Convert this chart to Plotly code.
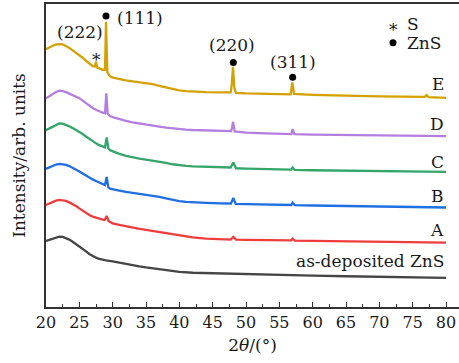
import plotly.graph_objects as go

# ---- data (2theta in degrees, intensity in arbitrary units) ----
x_asdep = [20, 20.5, 21, 21.5, 22, 22.5, 23, 23.5, 24, 24.5, 25, 25.5, 26, 26.5, 27, 27.5, 28, 28.5, 29, 30,
           31, 32, 33, 34, 35, 36, 37, 38, 39, 40, 42, 45, 50, 55, 60, 65, 70, 75, 80]
y_asdep = [66, 67, 68.5, 69.5, 70.2, 70, 69, 67.3, 65.2, 63, 60.5, 58, 55.5, 53, 51, 49.3, 48, 47, 46.5, 45.6,
           44.2, 43, 41.8, 40.6, 39.5, 38.5, 37.5, 36.5, 35.6, 35, 34.2, 33.6, 33, 32.2, 31.3, 30.7, 30.2, 29.6, 29]

x_A = [20, 20.5, 21, 21.5, 22, 22.5, 23, 23.5, 24, 24.5, 25, 25.5, 26, 26.5, 27, 27.5, 28, 28.5, 28.8, 29.1, 29.4,
       30, 31, 32, 33, 34, 35, 36, 37, 38, 39, 40, 41, 42, 44, 46, 47.7, 48.1, 48.5, 50, 53, 56.8, 57.0, 57.3,
       60, 65, 70, 75, 80]
y_A = [102, 103.5, 105, 106.3, 107, 106.8, 106, 104.5, 103, 100.8, 98.5, 96.2, 94, 92, 90.3, 89, 88, 87.2, 87, 91, 85.8,
       83.5, 82, 80.5, 79.2, 78, 77, 76, 75, 74, 72.5, 71.3, 70.3, 69.5, 68.4, 67.8, 67.4, 70, 67.3, 67, 66.8, 66.6, 68.3, 66.4,
       66, 65.6, 65.2, 64.8, 64.4]

x_B = [20, 20.5, 21, 21.5, 22, 22.5, 23, 23.5, 24, 24.5, 25, 25.5, 26, 26.5, 27, 27.5, 28, 28.5, 28.85, 29.1, 29.35,
       29.6, 30, 31, 32, 33, 34, 35, 36, 37, 38, 39, 40, 41, 42, 44, 46, 47.75, 48.1, 48.45, 50, 53, 56.8, 57.0, 57.3,
       60, 65, 70, 75, 80]
y_B = [138, 139.5, 141, 142.3, 143, 142.8, 142, 140.8, 139.2, 137.3, 135.3, 133.3, 131.2, 129.3, 127.5, 125.8, 124.2, 122.8, 121.8, 130, 119.5,
       118.3, 117.6, 116.3, 115, 114, 113.2, 112.4, 111.4, 110, 108.5, 107, 105.8, 105, 104.5, 104, 103.6, 103.4, 109, 103, 102.8, 102.3, 101.9, 104.4, 101.8,
       101.4, 100.8, 100.3, 99.8, 99.4]

x_C = [20, 20.5, 21, 21.5, 22, 22.5, 23, 23.5, 24, 24.5, 25, 25.5, 26, 26.5, 27, 27.5, 28, 28.5, 28.85, 29.1, 29.35,
       29.6, 30, 31, 32, 33, 34, 35, 36, 37, 38, 39, 40, 41, 42, 44, 46, 47.7, 48.1, 48.5, 50, 53, 56.8, 57.0, 57.3,
       60, 65, 70, 75, 80]
y_C = [176.7, 178.5, 180.5, 182.3, 183.4, 183.2, 182, 180.5, 178.7, 177, 175.2, 172.8, 170.3, 167.8, 165.5, 163.5, 161.7, 160.2, 159.5, 169.4, 158.3,
       156.7, 155.5, 153, 150.9, 149.4, 148.2, 147.2, 146.3, 145.2, 143.9, 142.6, 141.6, 140.9, 140.4, 139.9, 139.6, 139.4, 144.4, 138.6, 138.2, 137.7, 137.2, 139.4, 136.9,
       136.6, 136.1, 135.7, 135.3, 135]

x_D = [20, 20.5, 21, 21.5, 22, 22.5, 23, 23.5, 24, 24.5, 25, 25.5, 26, 26.5, 27, 27.5, 28, 28.5, 28.85, 29.05, 29.25,
       29.6, 30, 31, 32, 33, 34, 35, 36, 37, 38, 39, 40, 41, 42, 44, 46, 47.75, 47.9, 48.05, 48.3, 50, 53, 56.8, 57.0, 57.25,
       60, 65, 70, 75, 80]
y_D = [208.4, 210.5, 212.8, 214.8, 216, 215.7, 214.6, 213.2, 211.7, 210.2, 208.6, 206.2, 203.6, 201, 198.8, 197, 195.4, 194.1, 193.5, 213.4, 193,
       190.8, 189.7, 187.6, 185.9, 184.4, 183.2, 182.2, 181.3, 180.3, 179.3, 178.4, 177.7, 177.2, 176.8, 176.3, 176, 175.7, 178.7, 185, 175.4, 174.3, 173.5, 172.8, 177.7, 172.6,
       172.3, 171.8, 171.4, 171, 170.7]

x_E = [20, 20.5, 21, 21.5, 22, 22.5, 23, 23.5, 24, 24.5, 25, 25.5, 26, 26.5, 27, 27.35, 27.5, 27.65, 28, 28.5, 28.85,
       29.0, 29.2, 29.6, 30, 31, 32, 33, 34, 35, 36, 37, 38, 39, 40, 41, 42, 44, 46, 47.7, 47.85, 48.05, 48.25, 48.5,
       50, 53, 56.7, 56.95, 57.2, 60, 65, 70, 76.8, 77.1, 77.4, 80]
y_E = [257.4, 259.3, 261, 262.2, 262.7, 262.4, 261, 258.8, 256.4, 254.2, 252, 249, 246, 243, 240.5, 240.2, 245, 239.4, 238.2, 237, 237,
       285, 234.7, 230.5, 229.2, 227.6, 226.3, 225.3, 224.5, 223.8, 222.6, 221, 219.3, 217.6, 216.4, 215.6, 215.1, 214.7, 214.5, 214.4, 221.7, 240, 218.7, 214,
       213.5, 213, 212.5, 224.4, 212.8, 212, 211, 210.5, 209.9, 211.7, 209.6, 209]

series_names = ["as-deposited ZnS", "A", "B", "C", "D", "E"]
series_label_y = [46, 77.4, 110.7, 145, 182.7, 222.7]
series_colors = ["#454545", "#ee3d3d", "#1f6fe3", "#35a56a", "#b47ee0", "#d4a102"]

# ZnS peak markers
znS_peak_x = [29.0, 48.1, 57.0]
znS_peak_y = [290.7, 244.2, 229.4]
peak_labels = ["(111)", "(220)", "(311)"]
peak_label_x = [30.35, 47.97, 57.05]
peak_label_y = [288.4, 261.7, 244.4]
peak_label_anchor = ["left", "center", "center"]

FONT = "DejaVu Serif"
TXT = "#1a1a1a"

fig = go.Figure()
xs = [x_asdep, x_A, x_B, x_C, x_D, x_E]
ys = [y_asdep, y_A, y_B, y_C, y_D, y_E]
for name, xx, yy, col in zip(series_names, xs, ys, series_colors):
    fig.add_trace(go.Scatter(x=xx, y=yy, mode="lines", name=name,
                             line=dict(color=col, width=2.3), showlegend=False))

fig.add_trace(go.Scatter(x=znS_peak_x, y=znS_peak_y, mode="markers",
                         marker=dict(color="black", size=7), showlegend=False))
# legend bullet
fig.add_trace(go.Scatter(x=[72.05], y=[264], mode="markers",
                         marker=dict(color="black", size=7), showlegend=False))

ann = []
for t, x, y, a in zip(peak_labels, peak_label_x, peak_label_y, peak_label_anchor):
    ann.append(dict(x=x, y=y, text=t, xanchor=a, yanchor="middle", showarrow=False,
                    font=dict(family=FONT, size=17, color=TXT)))
ann.append(dict(x=25.15, y=275, text="(222)", xanchor="center", yanchor="middle",
                showarrow=False, font=dict(family=FONT, size=17, color=TXT)))
ann.append(dict(x=27.6, y=247, text="*", xanchor="center", yanchor="middle",
                showarrow=False, font=dict(family=FONT, size=17, color=TXT)))
ann.append(dict(x=72.05, y=277, text="*", xanchor="center", yanchor="middle",
                showarrow=False, font=dict(family=FONT, size=17, color=TXT)))
ann.append(dict(x=73.85, y=282.7, text="S", xanchor="left", yanchor="middle",
                showarrow=False, font=dict(family=FONT, size=17, color=TXT)))
ann.append(dict(x=73.85, y=264, text="ZnS", xanchor="left", yanchor="middle",
                showarrow=False, font=dict(family=FONT, size=17, color=TXT)))
for name, y in zip(series_names, series_label_y):
    ann.append(dict(x=80, y=y, text=name, xanchor="right", yanchor="middle",
                    showarrow=False, font=dict(family=FONT, size=17, color=TXT)))

fig.update_layout(
    width=459, height=363,
    margin=dict(l=46, r=0, t=4, b=56, autoexpand=False),
    plot_bgcolor="white", paper_bgcolor="white",
    annotations=ann,
    font=dict(family=FONT, color=TXT),
)
fig.update_xaxes(range=[20, 81.95], showline=True, mirror=True, linecolor="#333333", linewidth=1.5,
                 showgrid=False, zeroline=False, automargin=False,
                 ticks="inside", ticklen=5, tickwidth=1.2, tickcolor="#333333",
                 tickvals=list(range(20, 81, 5)),
                 minor=dict(ticks="inside", ticklen=3, tickwidth=1, tickcolor="#333333",
                            tickvals=[22.5 + 5 * i for i in range(12)]),
                 tickfont=dict(family=FONT, size=16, color=TXT),
                 title=dict(text="2<i>θ</i>/(°)", font=dict(family=FONT, size=17, color=TXT), standoff=8))
fig.update_yaxes(range=[0, 302.7], showline=True, mirror=False, linecolor="#333333", linewidth=1.5,
                 showgrid=False, zeroline=False, showticklabels=False, ticks="", automargin=False,
                 title=dict(text="Intensity/arb. units", font=dict(family=FONT, size=17, color=TXT), standoff=14))

fig.write_html("out.html", config={"displayModeBar": False},
               post_script="document.body.style.margin='0';document.body.style.overflow='hidden';")
